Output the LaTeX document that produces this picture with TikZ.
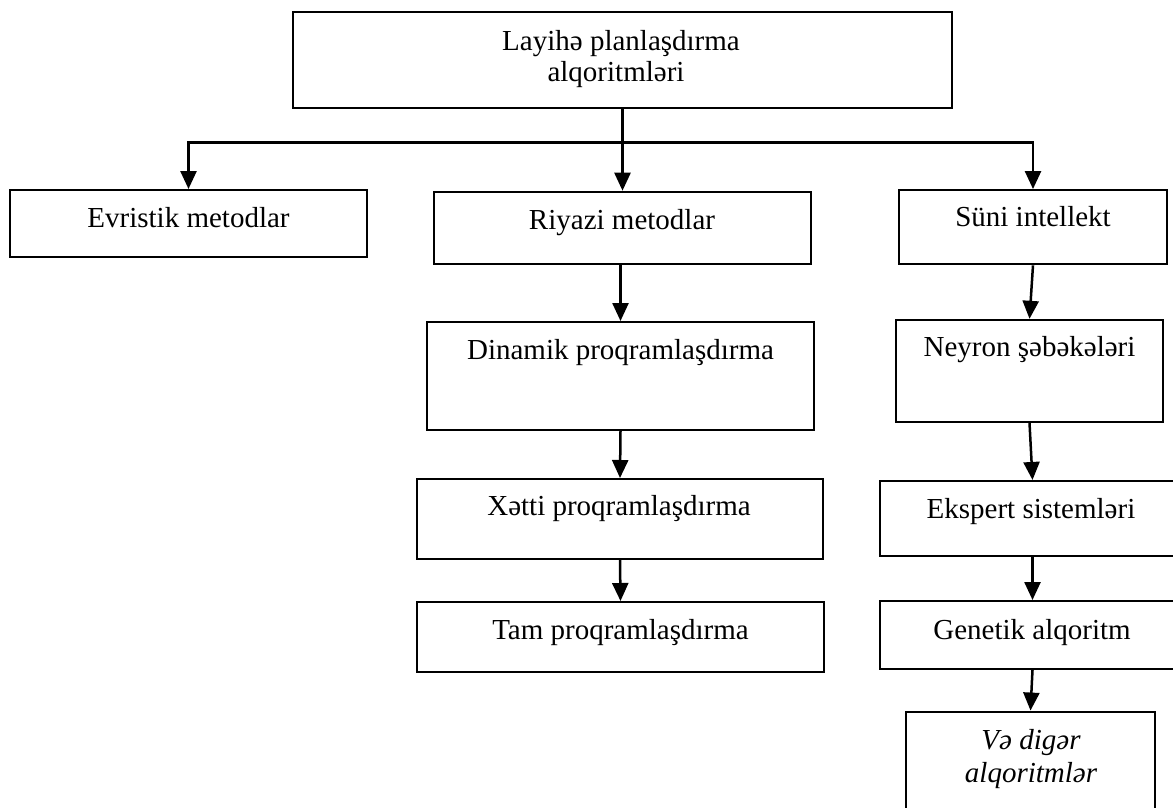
\documentclass[tikz,border=0pt]{standalone}
\usepackage{fontspec}
\setmainfont{Liberation Serif}
\usetikzlibrary{arrows.meta}
\tikzset{
  box/.style={draw=black, line width=2pt, inner sep=0pt, fill=none},
  lbl/.style={inner sep=0pt, anchor=base, font=\fontsize{29}{34}\selectfont},
  ilbl/.style={lbl, font=\fontsize{29}{34}\selectfont\itshape},
  arr/.style={line width=2.5pt, -{Triangle[length=18pt,width=16pt]}},
}
\begin{document}
\begin{tikzpicture}[x=1pt,y=-1pt]
\useasboundingbox (0,0) rectangle (1173,807);
\clip (0,0) rectangle (1173,807);
\fill[white] (0,0) rectangle (1173,807);
% boxes
\node[box, minimum width=659pt, minimum height=96.6pt] (top) at (622.5,60) {};
\node[box, minimum width=357pt, minimum height=67pt] (evr) at (188.5,223.5) {};
\node[box, minimum width=377pt, minimum height=72.6pt] (riy) at (622.5,228) {};
\node[box, minimum width=268pt, minimum height=74.3pt] (sun) at (1033,227.2) {};
\node[box, minimum width=387pt, minimum height=108pt] (din) at (620.5,376) {};
\node[box, minimum width=406pt, minimum height=80pt] (xet) at (620,519) {};
\node[box, minimum width=407pt, minimum height=70pt] (tam) at (620.5,637) {};
\node[box, minimum width=267pt, minimum height=102pt] (ney) at (1029.5,370.8) {};
\node[box, minimum width=305pt, minimum height=75.3pt] (eks) at (1032.5,518.6) {};
\node[box, minimum width=305pt, minimum height=68pt] (gen) at (1032.5,635) {};
\node[box, minimum width=249pt, minimum height=103.5pt] (ve) at (1030.5,763.3) {};
% texts
\node[lbl] (topA) at (621,50) {Layihə planlaşdırma};
\node[lbl] (topB) at (616,81.7) {alqoritmləri};
\node[lbl] (evrT) at (188.5,227) {Evristik metodlar};
\node[lbl] (riyT) at (622,229) {Riyazi metodlar};
\node[lbl] (sunT) at (1033,226.7) {Süni intellekt};
\node[lbl] (dinT) at (620.5,359) {Dinamik proqramlaşdırma};
\node[lbl] (xetT) at (619,515) {Xətti proqramlaşdırma};
\node[lbl] (tamT) at (620.5,639) {Tam proqramlaşdırma};
\node[lbl] (neyT) at (1029.5,356.6) {Neyron şəbəkələri};
\node[lbl] (eksT) at (1031,518) {Ekspert sistemləri};
\node[lbl] (genT) at (1032,639) {Genetik alqoritm};
\node[ilbl] (veA) at (1031,749) {Və digər};
\node[ilbl] (veB) at (1031,782.5) {alqoritmlər};
% connectors
\coordinate (bus) at (622.5,142.7);
\draw[arr] (top.south) -- (bus) -| (evr.north);
\draw[arr] (bus) -| (sun.north);
\draw[arr] (bus) -- (riy.north);
\draw[arr] (riy.south -| din.north) -- (din.north);
\draw[arr] (din.south) -- (xet.north);
\draw[arr] (xet.south) -- (tam.north);
\draw[arr] (sun.south) -- (ney.north);
\draw[arr] (ney.south) -- (eks.north);
\draw[arr] (eks.south) -- (gen.north);
\draw[arr] (gen.south) -- (ve.north);
\end{tikzpicture}
\end{document}
